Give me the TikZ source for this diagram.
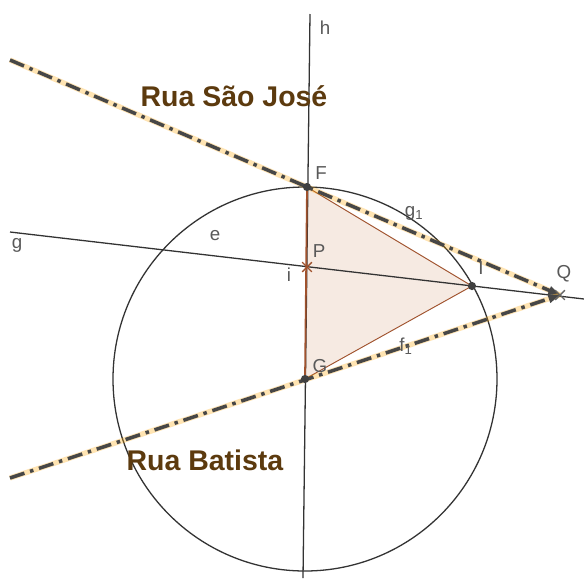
\documentclass[tikz,border=0pt]{standalone}
\usepackage{fontspec}
\setmainfont{Liberation Sans}
\usetikzlibrary{arrows.meta,shapes.misc}
\definecolor{streetbrown}{HTML}{5C3A0E}
\definecolor{triangfill}{HTML}{F6EAE2}
\definecolor{triangedge}{HTML}{A0522D}
\begin{document}
\begin{tikzpicture}[x=0.03cm,y=-0.03cm,
 thinline/.style={line width=1.1pt,black!80},
 glow/.style={line width=4.5pt,orange!70!yellow,opacity=.3},
 road/.style={line width=3pt,black!72,dash pattern=on 13pt off 5pt on 3pt off 5pt},
 dotpt/.style={circle,fill=black!75,inner sep=0pt,minimum size=7pt},
 crosspt/.style={cross out,draw=#1,line width=1.2pt,inner sep=0pt,minimum size=7pt},
 lbl/.style={text=black!65,font=\fontsize{16}{16}\selectfont},
 streetname/.style={text=streetbrown,font=\bfseries\fontsize{24.3}{25}\selectfont}]
 \useasboundingbox[fill=white] (0,0) rectangle (584,578);
 \coordinate (F) at (307,187); \coordinate (G) at (305,379);
 \coordinate (I) at (472,286); \coordinate (P) at (307,267);
 \coordinate (Q) at (560,295);
 \coordinate (htop) at (310,14); \coordinate (hbot) at (303,578);
 \coordinate (gleft) at (10,232); \coordinate (gright) at (584,299);
 \coordinate (jose) at (10,60); \coordinate (batista) at (10,478);
 \fill[triangfill] (F) -- (I) -- (G) -- cycle;
 \draw[thinline] (G) circle[radius=192];
 \draw[thinline] (htop) -- (hbot);
 \draw[thinline] (gleft) -- (gright);
 \draw[triangedge,line width=.8pt] (F) -- (I) -- (G);
 \draw[triangedge,line width=1.5pt] (F) -- (G);
 \foreach \s in {jose,batista} {
  \draw[glow] (\s) -- (Q);
  \draw[road,-{Triangle[length=10pt,width=7pt]}] (\s) -- (Q);
 }
 \node[dotpt] (Fpt) at (F) {}; \node[dotpt] (Gpt) at (G) {};
 \node[dotpt] (Ipt) at (I) {};
 \node[crosspt=triangedge] (Ppt) at (P) {};
 \node[crosspt=black!60] (Qpt) at (Q) {};
 \node[lbl] (Flbl) at (321,173) {F}; \node[lbl] (Plbl) at (319,251) {P};
 \node[lbl] (Glbl) at (320,366) {G}; \node[lbl] (Qlbl) at (564,274) {Q};
 \node[lbl] (Ilbl) at (481,268) {I}; \node[lbl] (hlbl) at (325,28) {h};
 \node[lbl] (glbl) at (17,245) {g}; \node[lbl] (elbl) at (215,236) {e};
 \node[lbl] (ilbl) at (289,275) {i};
 \node[lbl] (g1lbl) at (414,213) {g\textsubscript{1}};
 \node[lbl] (f1lbl) at (406,346) {f\textsubscript{1}};
 \node[streetname] (jose lbl) at (234,96) {Rua São José};
 \node[streetname] (batista lbl) at (205,460) {Rua Batista};
\end{tikzpicture}
\end{document}
